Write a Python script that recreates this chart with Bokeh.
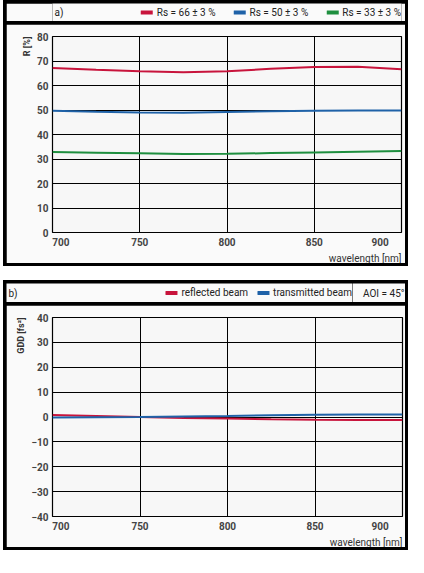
from bokeh.plotting import figure
from bokeh.models import Legend, LegendItem, Label, Title, FixedTicker, Spacer
from bokeh.layouts import column, row
from bokeh.embed import file_html
from bokeh.resources import INLINE

# ---- data ----
wavelength = [700, 725, 750, 775, 800, 825, 850, 875, 900]
r_rs66 = [67.1, 66.4, 65.8, 65.4, 65.8, 66.8, 67.6, 67.7, 66.6]
r_rs50 = [49.7, 49.3, 49.0, 48.9, 49.2, 49.5, 49.7, 49.8, 49.8]
r_rs33 = [32.9, 32.6, 32.3, 32.0, 32.1, 32.4, 32.7, 33.0, 33.3]
gdd_reflected = [0.8, 0.4, 0.0, -0.4, -0.6, -0.9, -1.1, -1.2, -1.2]
gdd_transmitted = [-0.2, -0.1, 0.0, 0.2, 0.4, 0.7, 0.9, 1.0, 1.0]

x_ticks = [700, 750, 800, 850, 900]
r_ticks = [0, 10, 20, 30, 40, 50, 60, 70, 80]
gdd_ticks = [-40, -30, -20, -10, 0, 10, 20, 30, 40]

labels_a = ["Rs = 66 \u00b1 3 %", "Rs = 50 \u00b1 3 %", "Rs = 33 \u00b1 3 %"]
labels_b = ["reflected beam", "transmitted beam"]

RED = "#c8143c"
BLUE = "#1f62a8"
GREEN = "#1f8f3f"
FONT = "Roboto"
W = 399
BG = "#fafafa"
FS = "\u2007"  # figure space: shifts the end labels inward, as in the original


def base_header(width, H, right=0):
    h = figure(width=width, height=H, x_range=(0, 1), y_range=(0, 1),
               x_axis_type=None, y_axis_type=None,
               output_backend="svg", toolbar_location=None,
               min_border=0, min_border_right=right)
    h.outline_line_color = None
    h.background_fill_color = BG
    h.border_fill_color = BG
    return h


def add_legend(h, H, series, spacing):
    items = []
    for ys, color, lab in series:
        r = h.line(wavelength, ys, line_color=color, line_width=4,
                   line_cap="round", visible=False)
        items.append(LegendItem(label=lab, renderers=[r]))
    h.add_layout(Legend(items=items, orientation="horizontal", location="top_right",
                        label_text_font=FONT, label_text_font_size="10px",
                        label_text_color="#222222",
                        glyph_width=12, glyph_height=H, label_height=H,
                        label_standoff=4, spacing=spacing, padding=0, margin=0,
                        border_line_color=None, background_fill_alpha=0,
                        inactive_fill_alpha=0))


def tag_label(h, H, tag):
    h.add_layout(Label(x=2, y=H / 2, x_units="screen", y_units="screen", text=tag,
                       text_font=FONT, text_font_size="10px",
                       text_baseline="middle", text_color="#222222"))


def make_main(H, top, bottom, yrange, yticks, ylabel, series):
    p = figure(width=W, height=H, x_range=(700, 900), y_range=yrange,
               output_backend="svg", toolbar_location=None,
               min_border_left=46, min_border_right=3,
               min_border_top=top, min_border_bottom=bottom)
    p.background_fill_color = "#f7f7f7"
    p.border_fill_color = BG
    p.outline_line_color = "black"
    p.outline_line_width = 1.2

    for ax, ticks in ((p.xaxis, x_ticks), (p.yaxis, yticks)):
        ax.ticker = FixedTicker(ticks=ticks)
        ax.major_tick_line_color = None
        ax.minor_tick_line_color = None
        ax.major_tick_out = 0
        ax.major_tick_in = 0
        ax.minor_tick_out = 0
        ax.minor_tick_in = 0
        ax.axis_line_color = None
        ax.major_label_text_font = FONT
        ax.major_label_text_font_size = "10px"
        ax.major_label_text_font_style = "bold"
        ax.major_label_text_color = "#444444"
    p.xaxis.major_label_standoff = 4
    p.yaxis.major_label_standoff = 4
    p.xaxis.major_label_overrides = {
        x_ticks[0]: FS * 3 + str(x_ticks[0]),
        x_ticks[-1]: str(x_ticks[-1]) + FS * 3,
    }

    p.xgrid.ticker = FixedTicker(ticks=x_ticks)
    p.ygrid.ticker = FixedTicker(ticks=yticks)
    for g in (p.xgrid, p.ygrid):
        g.grid_line_color = "black"
        g.grid_line_width = 1
        g.grid_line_alpha = 1

    for ys, color in series:
        p.line(wavelength, ys, line_color=color, line_width=2)

    p.add_layout(Title(text="wavelength [nm]", align="right", text_font=FONT,
                       text_font_size="10px", text_font_style="normal",
                       text_color="#333333", standoff=0, offset=0), "below")
    p.add_layout(Title(text=ylabel, align="right", text_font=FONT,
                       text_font_size="9px", text_font_style="bold",
                       text_color="#333333", standoff=6, offset=0), "left")
    return p


def panel(header, main, height):
    return column(header, main, spacing=3, width=W + 6, height=height,
                  styles={"background-color": "black", "padding": "3px",
                          "box-sizing": "border-box"})


# panel a
PA = 266
HA = 18
ha = base_header(W, HA, right=4)
add_legend(ha, HA, [(r_rs66, RED, labels_a[0]), (r_rs50, BLUE, labels_a[1]),
                    (r_rs33, GREEN, labels_a[2])], 18)
tag_label(ha, HA, "a)")
ma = make_main(PA - 6 - HA - 3, 12, 28, (0, 80), r_ticks, "R [%]",
               [(r_rs66, RED), (r_rs50, BLUE), (r_rs33, GREEN)])

# panel b
PB = 270
HB = 19
LW = 346
hb1 = base_header(LW, HB)
add_legend(hb1, HB, [(gdd_reflected, RED, labels_b[0]),
                     (gdd_transmitted, BLUE, labels_b[1])], 9)
tag_label(hb1, HB, "b)")
hb2 = base_header(W - LW, HB)
hb2.add_layout(Label(x=W - LW - 1, y=HB / 2, x_units="screen", y_units="screen",
                     text="AOI = 45\u00b0", text_align="right", text_baseline="middle",
                     text_font=FONT, text_font_size="10px", text_color="#222222"))
hb = row(hb1, hb2, spacing=0)
mb = make_main(PB - 6 - HB - 3, 12, 30, (-40, 40), gdd_ticks, "GDD [fs\u00b2]",
               [(gdd_reflected, RED), (gdd_transmitted, BLUE)])

root = row(Spacer(width=3, height=10),
           column(panel(ha, ma, PA), panel(hb, mb, PB), spacing=14))
open("out.html", "w").write(file_html(root, INLINE))
